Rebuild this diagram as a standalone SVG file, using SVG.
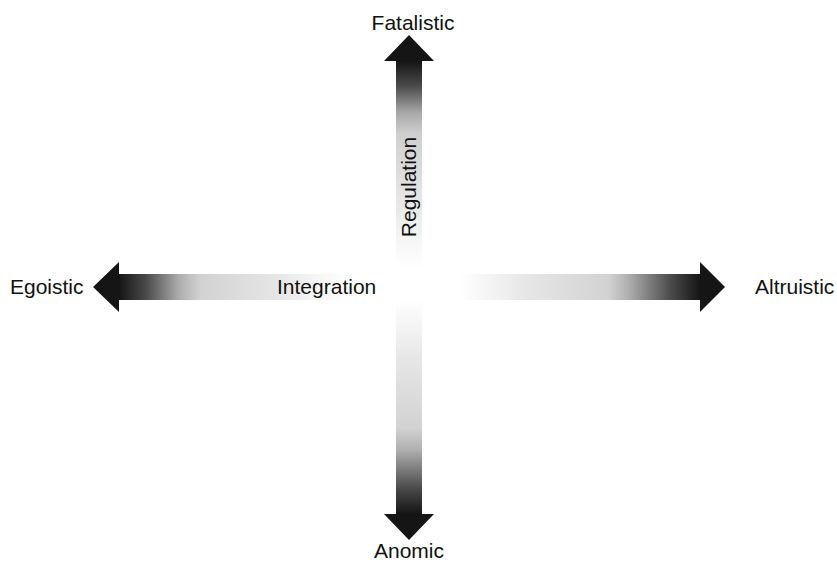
<svg xmlns="http://www.w3.org/2000/svg" width="837" height="567" viewBox="0 0 837 567">
<style>
text{font-family:"Liberation Sans",Arial,sans-serif;font-size:21px;fill:#111}
</style>
<defs>
<linearGradient id="gL" gradientUnits="userSpaceOnUse" x1="119" y1="0" x2="345" y2="0">
<stop offset="0" stop-color="#151515"/><stop offset="0.12" stop-color="#4a4a4a"/><stop offset="0.27" stop-color="#b0b0b0"/><stop offset="0.36" stop-color="#d2d2d2"/><stop offset="0.7" stop-color="#e6e6e6"/><stop offset="0.88" stop-color="#f6f6f6"/><stop offset="1" stop-color="#fff"/>
</linearGradient>
<linearGradient id="gR" gradientUnits="userSpaceOnUse" x1="700" y1="0" x2="460" y2="0">
<stop offset="0" stop-color="#151515"/><stop offset="0.12" stop-color="#4a4a4a"/><stop offset="0.3" stop-color="#b0b0b0"/><stop offset="0.38" stop-color="#d2d2d2"/><stop offset="0.72" stop-color="#e6e6e6"/><stop offset="0.9" stop-color="#f6f6f6"/><stop offset="1" stop-color="#fff"/>
</linearGradient>
<linearGradient id="gU" gradientUnits="userSpaceOnUse" x1="0" y1="61" x2="0" y2="268">
<stop offset="0" stop-color="#151515"/><stop offset="0.12" stop-color="#4a4a4a"/><stop offset="0.25" stop-color="#a8a8a8"/><stop offset="0.35" stop-color="#cfcfcf"/><stop offset="0.7" stop-color="#e8e8e8"/><stop offset="0.88" stop-color="#f7f7f7"/><stop offset="1" stop-color="#fff"/>
</linearGradient>
<linearGradient id="gD" gradientUnits="userSpaceOnUse" x1="0" y1="514" x2="0" y2="300">
<stop offset="0" stop-color="#151515"/><stop offset="0.12" stop-color="#4a4a4a"/><stop offset="0.3" stop-color="#b0b0b0"/><stop offset="0.4" stop-color="#d2d2d2"/><stop offset="0.72" stop-color="#e6e6e6"/><stop offset="0.9" stop-color="#f6f6f6"/><stop offset="1" stop-color="#fff"/>
</linearGradient>
</defs>
<g id="connectors">
<polygon id="arrow-left" fill="url(#gL)" points="93,287 119,262 119,274 395,274 395,300 119,300 119,312"/>
<polygon id="arrow-right" fill="url(#gR)" points="725,287 700,262 700,274 440,274 440,300 700,300 700,312"/>
<polygon id="arrow-up" fill="url(#gU)" points="409,35 384,61 396,61 396,272 422,272 422,61 434,61"/>
<polygon id="arrow-down" fill="url(#gD)" points="409,540 384,514 396,514 396,298 422,298 422,514 434,514"/>
</g>
<g id="fatalistic"><text x="413" y="30" text-anchor="middle">Fatalistic</text></g>
<g id="anomic"><text x="409" y="558" text-anchor="middle">Anomic</text></g>
<g id="egoistic"><text x="10" y="294">Egoistic</text></g>
<g id="altruistic"><text x="755" y="294">Altruistic</text></g>
<g id="integration"><text x="277" y="294">Integration</text></g>
<g id="regulation"><text x="0" y="0" text-anchor="middle" transform="translate(416,187) rotate(-90)">Regulation</text></g>
</svg>
